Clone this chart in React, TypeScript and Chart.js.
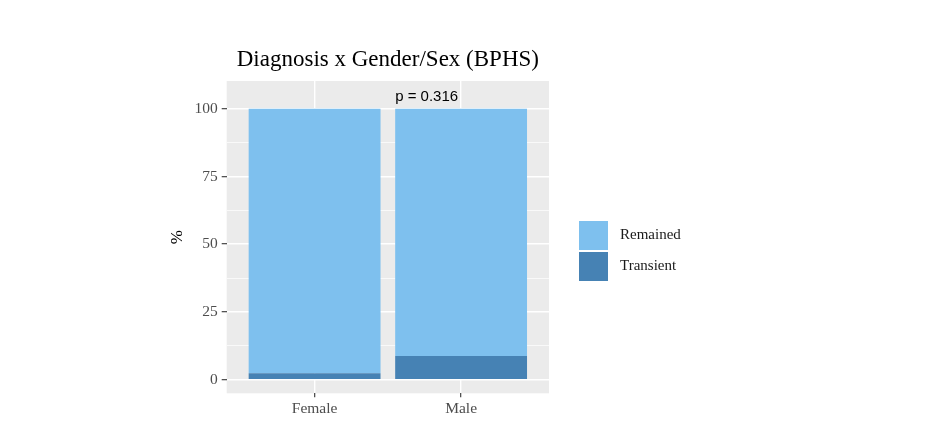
import { useEffect, useRef } from "react";
import { Chart, registerables } from "chart.js";

Chart.register(...registerables);

const categories = ["Female", "Male"];
const categoryPositions = [1, 2];
const remained = [97.6, 91.2];
const transient = [2.4, 8.8];
const yMajorTicks = [0, 25, 50, 75, 100];
const yMinorTicks = [12.5, 37.5, 62.5, 87.5];
const legendLabels = ["Remained", "Transient"];
const pLabel = "p = 0.316";
const pLabelX = 1.55;
const pLabelY = 102.8;

const REMAINED = "#7EC0EE";
const TRANSIENT = "#4682B4";
const SERIF = "'Liberation Serif', 'Times New Roman', serif";
const SANS = "'Liberation Sans', Arial, sans-serif";

const panelBackground = {
  id: "panelBackground",
  beforeDraw(chart: Chart) {
    const { ctx, chartArea } = chart;
    ctx.save();
    ctx.fillStyle = "#EBEBEB";
    ctx.fillRect(chartArea.left, chartArea.top, chartArea.right - chartArea.left, chartArea.bottom - chartArea.top);
    ctx.restore();
  },
};

const pValueLabel = {
  id: "pValueLabel",
  afterDatasetsDraw(chart: Chart) {
    const { ctx, scales } = chart;
    ctx.save();
    ctx.font = `15px ${SANS}`;
    ctx.fillStyle = "#000000";
    ctx.textAlign = "left";
    ctx.textBaseline = "alphabetic";
    ctx.fillText(pLabel, scales.x.getPixelForValue(pLabelX), scales.y.getPixelForValue(pLabelY));
    ctx.restore();
  },
};

// ggplot style legend to the right of the panel
const sideLegend = {
  id: "sideLegend",
  afterDraw(chart: Chart) {
    const { ctx } = chart;
    const colors = [REMAINED, TRANSIENT];
    const left = 579;
    const top = 221;
    const key = 29;
    const gap = 2;
    ctx.save();
    ctx.font = `15px ${SERIF}`;
    ctx.textAlign = "left";
    ctx.textBaseline = "middle";
    legendLabels.forEach((label, i) => {
      const y = top + i * (key + gap);
      ctx.fillStyle = colors[i];
      ctx.fillRect(left, y, key, key);
      ctx.fillStyle = "#1A1A1A";
      ctx.fillText(label, left + key + 12, y + key / 2);
    });
    ctx.restore();
  },
};

export default function App() {
  const chartRef = useRef<HTMLCanvasElement>(null);
  const chartInstanceRef = useRef<Chart | null>(null);

  useEffect(() => {
    document.body.style.margin = "0";
    if (!chartRef.current) return;
    const ctx = chartRef.current.getContext("2d");
    if (!ctx) return;
    if (chartInstanceRef.current) chartInstanceRef.current.destroy();

    chartInstanceRef.current = new Chart(ctx, {
      type: "bar",
      data: {
        datasets: [
          {
            label: "Transient",
            data: categoryPositions.map((x, i) => ({ x, y: transient[i] })),
            backgroundColor: TRANSIENT,
            borderWidth: 0,
            barPercentage: 0.9,
            categoryPercentage: 1,
          },
          {
            label: "Remained",
            data: categoryPositions.map((x, i) => ({ x, y: remained[i] })),
            backgroundColor: REMAINED,
            borderWidth: 0,
            barPercentage: 0.9,
            categoryPercentage: 1,
          },
        ],
      },
      options: {
        responsive: true,
        maintainAspectRatio: false,
        animation: false,
        layout: { padding: { left: 160, right: 377, top: 0, bottom: 0 } },
        plugins: {
          legend: { display: false },
          tooltip: { enabled: false },
          title: {
            display: true,
            text: "Diagnosis x Gender/Sex (BPHS)",
            fullSize: false,
            color: "#000000",
            font: { family: SERIF, size: 23, weight: "normal" },
            padding: { top: 46, bottom: 7.4 },
          },
        },
        scales: {
          x: {
            type: "linear",
            min: 0.4,
            max: 2.6,
            offset: false,
            stacked: true,
            afterBuildTicks: (scale: any) => {
              scale.ticks = categoryPositions.map((value) => ({ value }));
            },
            afterFit: (scale: any) => {
              scale.height = 45.7;
            },
            border: { display: false },
            grid: {
              offset: false,
              color: "#FFFFFF",
              lineWidth: 1.4,
              tickColor: "#333333",
              tickLength: 4,
              tickWidth: 1.1,
            },
            ticks: {
              autoSkip: false,
              maxRotation: 0,
              padding: 2,
              color: "#4D4D4D",
              font: { family: SERIF, size: 15.5 },
              callback: (value: any) => categories[categoryPositions.indexOf(Number(value))] ?? "",
            },
          },
          y: {
            type: "linear",
            min: -5,
            max: 110.2,
            stacked: true,
            afterBuildTicks: (scale: any) => {
              scale.ticks = [...yMajorTicks, ...yMinorTicks].sort((a, b) => a - b).map((value) => ({ value }));
            },
            afterFit: (scale: any) => {
              scale.width = 66.7;
            },
            border: { display: false },
            title: {
              display: true,
              text: "%",
              color: "#000000",
              font: { family: SERIF, size: 17 },
              padding: { top: 7.8, bottom: 0 },
            },
            grid: {
              color: "#FFFFFF",
              lineWidth: (c: any) => (yMajorTicks.includes(c.tick?.value) ? 1.4 : 0.7),
              tickColor: (c: any) => (yMajorTicks.includes(c.tick?.value) ? "#333333" : "rgba(0,0,0,0)"),
              tickLength: 5,
              tickWidth: 1.1,
            },
            ticks: {
              autoSkip: false,
              padding: 4,
              color: "#4D4D4D",
              font: { family: SERIF, size: 15.5 },
              callback: (value: any) => (yMajorTicks.includes(Number(value)) ? String(value) : ""),
            },
          },
        },
      },
      plugins: [panelBackground, pValueLabel, sideLegend],
    });

    return () => {
      if (chartInstanceRef.current) {
        chartInstanceRef.current.destroy();
        chartInstanceRef.current = null;
      }
    };
  }, []);

  return (
    <div style={{ width: 926, height: 439, position: "relative", background: "#FFFFFF" }}>
      <canvas ref={chartRef} />
    </div>
  );
}
